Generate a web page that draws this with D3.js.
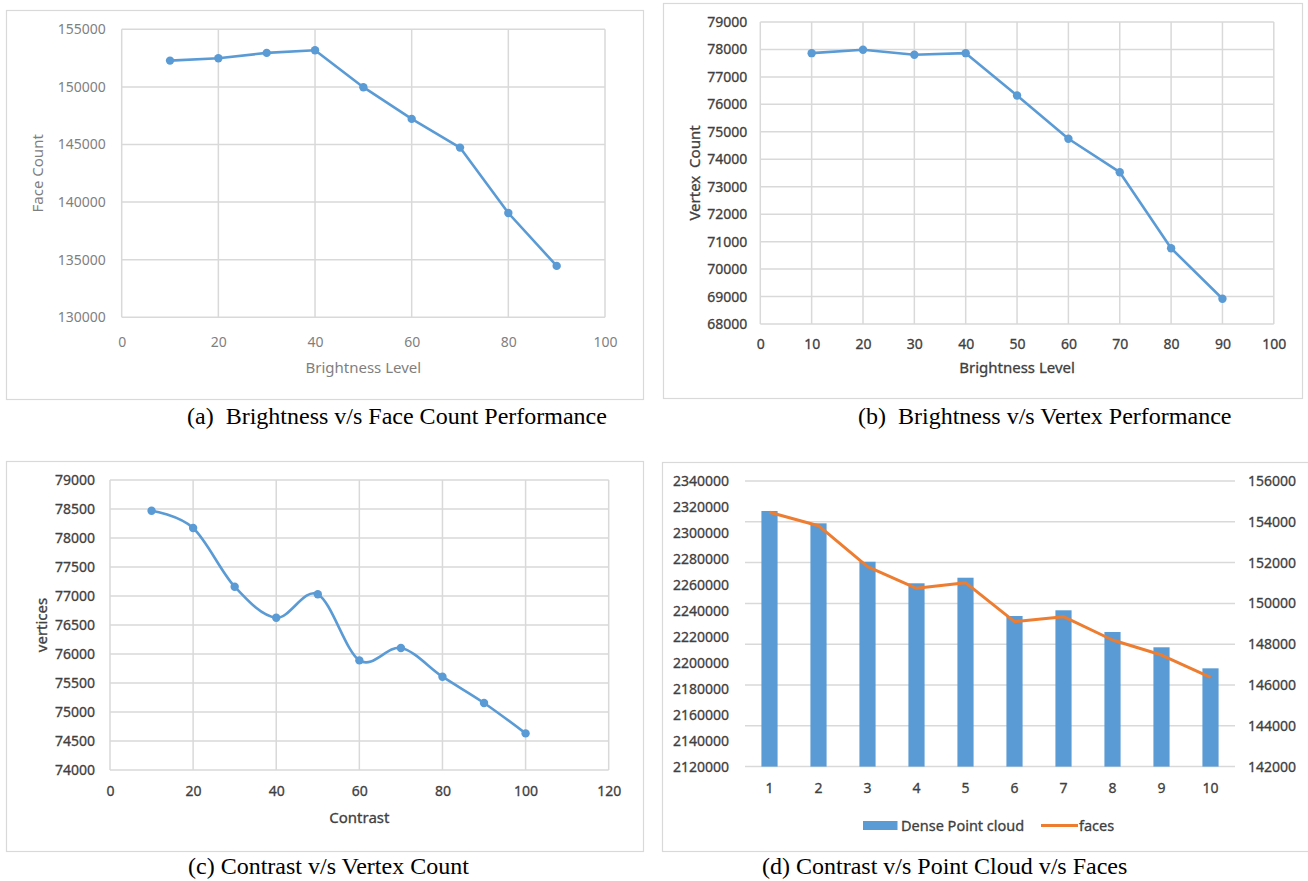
<!DOCTYPE html>
<html><head><meta charset="utf-8">
<script src="https://cdn.jsdelivr.net/npm/d3@7"></script>
<style>
body{margin:0;background:#fff}
svg text{font-family:"Noto Sans",sans-serif}
</style>
</head><body>
<svg id="chart" width="1308" height="881"></svg>
<script>
// ---------- data ----------
const brightnessLevels=[10,20,30,40,50,60,70,80,90];
const faceCounts=[152283,152491,152951,153186,149974,147222,144731,139050,134462];
const vertexCounts=[77865,77989,77807,77865,76324,74747,73530,70760,68918];
const contrastLevels=[10,20,30,40,50,60,70,80,90,100];
const contrastVertices=[78471,78172,77160,76626,77029,75890,76103,75609,75155,74631];
const contrastSteps=[1,2,3,4,5,6,7,8,9,10];
const densePointCloud=[2316900,2307400,2277800,2261200,2265500,2236000,2240400,2223700,2211900,2195700];
const faces=[154466,153809,151799,150740,151015,149103,149348,148206,147470,146377];

const aYTicks=[130000,135000,140000,145000,150000,155000];
const aXTicks=[0,20,40,60,80,100];
const bYTicks=[68000,69000,70000,71000,72000,73000,74000,75000,76000,77000,78000,79000];
const bXTicks=[0,10,20,30,40,50,60,70,80,90,100];
const cYTicks=[74000,74500,75000,75500,76000,76500,77000,77500,78000,78500,79000];
const cXTicks=[0,20,40,60,80,100,120];
const dLeftTicks=[2120000,2140000,2160000,2180000,2200000,2220000,2240000,2260000,2280000,2300000,2320000,2340000];
const dRightTicks=[142000,144000,146000,148000,150000,152000,154000,156000];

const captions=["(a)  Brightness v/s Face Count Performance","(b)  Brightness v/s Vertex Performance","(c) Contrast v/s Vertex Count","(d) Contrast v/s Point Cloud v/s Faces"];

// ---------- styling ----------
const BLUE="#5b9bd5", ORANGE="#ed7d31", GRID="#d9d9d9";
const svg=d3.select("#chart");

function frame(x,y,w,h){
  svg.append("rect").attr("x",x+0.5).attr("y",y+0.5).attr("width",w).attr("height",h)
    .attr("fill","#fff").attr("stroke",GRID).attr("stroke-width",1.2);
}

function lineChart(o){
  frame(o.frame[0],o.frame[1],o.frame[2],o.frame[3]);
  const x=d3.scaleLinear().domain(o.xDomain).range([o.l,o.r]);
  const y=d3.scaleLinear().domain(o.yDomain).range([o.b,o.t]);
  const g=svg.append("g");
  g.selectAll(".hg").data(o.yTicks).join("line")
    .attr("x1",o.l).attr("x2",o.r).attr("y1",d=>y(d)).attr("y2",d=>y(d))
    .attr("stroke",GRID).attr("stroke-width",1.5);
  g.selectAll(".vg").data(o.xTicks).join("line")
    .attr("y1",o.t).attr("y2",o.b).attr("x1",d=>x(d)).attr("x2",d=>x(d))
    .attr("stroke",GRID).attr("stroke-width",1.5);
  const ya=g.append("g").attr("transform",`translate(${o.l},0)`)
    .call(d3.axisLeft(y).tickValues(o.yTicks).tickSize(0).tickPadding(o.yPad).tickFormat(d3.format("d")));
  const xa=g.append("g").attr("transform",`translate(0,${o.b})`)
    .call(d3.axisBottom(x).tickValues(o.xTicks).tickSize(0).tickPadding(o.xPad).tickFormat(d3.format("d")));
  [ya,xa].forEach(a=>{
    a.select(".domain").remove();
    a.selectAll("text").attr("font-size",14).attr("fill",o.labelColor)
      .attr("stroke",o.labelStroke||"none").attr("stroke-width",0.3)
      .style("font-family","'Noto Sans',sans-serif");
  });
  const line=d3.line().x(d=>x(d[0])).y(d=>y(d[1]));
  if(o.smooth) line.curve(d3.curveCardinal.tension(0));
  const pts=o.xs.map((v,i)=>[v,o.ys[i]]);
  g.append("path").datum(pts).attr("d",line).attr("fill","none")
    .attr("stroke",BLUE).attr("stroke-width",2.6).attr("stroke-linejoin","round");
  g.selectAll(".pt").data(pts).join("circle")
    .attr("cx",d=>x(d[0])).attr("cy",d=>y(d[1])).attr("r",4.2).attr("fill",BLUE);
  g.append("text").attr("x",(o.l+o.r)/2).attr("y",o.xTitleY).attr("text-anchor","middle")
    .attr("font-size",15).attr("fill",o.labelColor).attr("stroke",o.labelStroke||"none").attr("stroke-width",0.3)
    .text(o.xTitle);
  g.append("text").attr("transform",`translate(${o.yTitleX},${(o.t+o.b)/2}) rotate(-90)`)
    .attr("text-anchor","middle").attr("font-size",15).attr("fill",o.labelColor)
    .attr("stroke",o.labelStroke||"none").attr("stroke-width",0.3).style("white-space","pre")
    .text(o.yTitle);
}

// (a)
lineChart({frame:[6,10,637,389],l:121.7,r:605,t:29.3,b:317.3,
  xDomain:[0,100],yDomain:[130000,155000],xTicks:aXTicks,yTicks:aYTicks,
  xs:brightnessLevels,ys:faceCounts,yPad:16,xPad:19.5,labelColor:"#7f7f7f",
  xTitle:"Brightness Level",xTitleY:373,yTitle:"Face Count",yTitleX:43});
// (b)
lineChart({frame:[663,3,639,395],l:760.3,r:1273.8,t:22,b:324,
  xDomain:[0,100],yDomain:[68000,79000],xTicks:bXTicks,yTicks:bYTicks,
  xs:brightnessLevels,ys:vertexCounts,yPad:13,xPad:15.5,labelColor:"#404040",labelStroke:"#404040",
  xTitle:"Brightness Level",xTitleY:373,yTitle:"Vertex  Count",yTitleX:700});
// (c)
lineChart({frame:[6,461,637,390],l:110,r:608.7,t:480,b:770,
  xDomain:[0,120],yDomain:[74000,79000],xTicks:cXTicks,yTicks:cYTicks,
  xs:contrastLevels,ys:contrastVertices,smooth:true,yPad:15,xPad:16,labelColor:"#404040",labelStroke:"#404040",
  xTitle:"Contrast",xTitleY:823,yTitle:"vertices",yTitleX:47});

// (d) combo chart
(function(){
  const l=745,r=1235,t=481,b=766.6;
  frame(662,462,660,389);
  const x=d3.scaleBand().domain(contrastSteps).range([l,r]).padding(0);
  const yL=d3.scaleLinear().domain([2120000,2340000]).range([b,t]);
  const yR=d3.scaleLinear().domain([142000,156000]).range([b,t]);
  const g=svg.append("g");
  g.selectAll(".hg").data(dRightTicks).join("line")
    .attr("x1",l).attr("x2",r).attr("y1",d=>yR(d)).attr("y2",d=>yR(d))
    .attr("stroke",GRID).attr("stroke-width",1.5);
  const bw=x.bandwidth()*0.33;
  g.selectAll(".bar").data(contrastSteps).join("rect")
    .attr("x",d=>x(d)+x.bandwidth()/2-bw/2).attr("width",bw)
    .attr("y",(d,i)=>yL(densePointCloud[i])).attr("height",(d,i)=>b-yL(densePointCloud[i]))
    .attr("fill",BLUE);
  const line=d3.line().x((d,i)=>x(contrastSteps[i])+x.bandwidth()/2).y(d=>yR(d));
  g.append("path").datum(faces).attr("d",line).attr("fill","none")
    .attr("stroke",ORANGE).attr("stroke-width",3).attr("stroke-linejoin","round");
  const la=g.append("g").attr("transform",`translate(${l},0)`)
    .call(d3.axisLeft(yL).tickValues(dLeftTicks).tickSize(0).tickPadding(16).tickFormat(d3.format("d")));
  const ra=g.append("g").attr("transform",`translate(${r},0)`)
    .call(d3.axisRight(yR).tickValues(dRightTicks).tickSize(0).tickPadding(13).tickFormat(d3.format("d")));
  const ba=g.append("g").attr("transform",`translate(0,${b})`)
    .call(d3.axisBottom(x).tickSize(0).tickPadding(16.5));
  [la,ra,ba].forEach(a=>{
    a.select(".domain").remove();
    a.selectAll("text").attr("font-size",14).attr("fill","#404040").attr("stroke","#404040").attr("stroke-width",0.3)
      .style("font-family","'Noto Sans',sans-serif");
  });
  const lg=g.append("g");
  lg.append("rect").attr("x",863).attr("y",821).attr("width",34.5).attr("height",9).attr("fill",BLUE);
  lg.append("text").attr("x",901).attr("y",830.5).attr("font-size",14.5).attr("fill","#404040")
    .attr("stroke","#404040").attr("stroke-width",0.3).text("Dense Point cloud");
  lg.append("line").attr("x1",1041).attr("x2",1078).attr("y1",825.5).attr("y2",825.5)
    .attr("stroke",ORANGE).attr("stroke-width",3);
  lg.append("text").attr("x",1079).attr("y",830.5).attr("font-size",14.5).attr("fill","#404040")
    .attr("stroke","#404040").attr("stroke-width",0.3).text("faces");
})();

// captions
const capPos=[[187,424],[858,424],[188,874],[762,874]];
svg.selectAll(".cap").data(captions).join("text")
  .attr("x",(d,i)=>capPos[i][0]).attr("y",(d,i)=>capPos[i][1])
  .style("font-family","'Liberation Serif','Times New Roman',serif").style("white-space","pre")
  .attr("font-size",24).attr("fill","#000").text(d=>d);
</script>
</body></html>
